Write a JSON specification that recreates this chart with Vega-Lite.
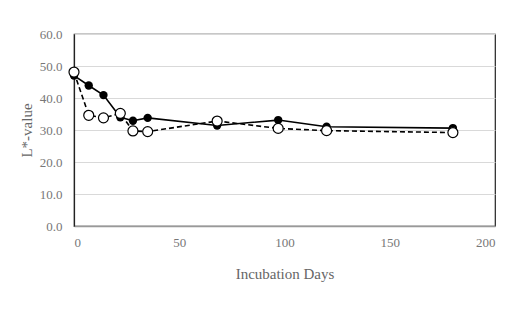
{
  "$schema": "https://vega.github.io/schema/vega-lite/v6.json",
  "width": 421,
  "height": 192,
  "autosize": {"type": "none"},
  "padding": {"left": 74, "top": 34, "right": 29, "bottom": 100},
  "background": "white",
  "config": {
    "view": {"stroke": "#222222", "strokeWidth": 1.2},
    "font": "Liberation Serif",
    "axis": {"labelFont": "Liberation Serif", "titleFont": "Liberation Serif", "labelColor": "#777777", "titleColor": "#666666", "labelFontSize": 13, "titleFontSize": 15, "titleFontWeight": "normal", "ticks": false}
  },
  "data": {
    "values": [
      {"day": 0, "value": 47.0, "series": "A"},
      {"day": 7, "value": 43.9, "series": "A"},
      {"day": 14, "value": 40.9, "series": "A"},
      {"day": 22, "value": 34.0, "series": "A"},
      {"day": 28, "value": 32.9, "series": "A"},
      {"day": 35, "value": 33.8, "series": "A"},
      {"day": 68, "value": 31.4, "series": "A"},
      {"day": 97, "value": 33.1, "series": "A"},
      {"day": 120, "value": 31.0, "series": "A"},
      {"day": 180, "value": 30.6, "series": "A"},
      {"day": 0, "value": 48.1, "series": "B"},
      {"day": 7, "value": 34.6, "series": "B"},
      {"day": 14, "value": 33.8, "series": "B"},
      {"day": 22, "value": 35.2, "series": "B"},
      {"day": 28, "value": 29.7, "series": "B"},
      {"day": 35, "value": 29.5, "series": "B"},
      {"day": 68, "value": 32.8, "series": "B"},
      {"day": 97, "value": 30.5, "series": "B"},
      {"day": 120, "value": 29.8, "series": "B"},
      {"day": 180, "value": 29.2, "series": "B"}
    ]
  },
  "encoding": {
    "x": {
      "field": "day", "type": "quantitative",
      "scale": {"domain": [0, 200], "nice": false},
      "axis": {"values": [0, 50, 100, 150, 200], "grid": false, "domainColor": "#999999", "domainWidth": 1.5, "labelPadding": 10, "title": "Incubation Days", "titlePadding": 17}
    },
    "y": {
      "field": "value", "type": "quantitative",
      "scale": {"domain": [0, 60], "nice": false},
      "axis": {"values": [0, 10, 20, 30, 40, 50, 60], "format": ".1f", "grid": true, "gridColor": "#d9d9d9", "gridWidth": 1.2, "domainColor": "#222222", "domainWidth": 1.2, "labelPadding": 12, "title": "L*-value", "titlePadding": 5}
    }
  },
  "layer": [
    {"transform": [{"filter": "datum.series == 'A'"}], "mark": {"type": "line", "color": "black", "strokeWidth": 1.6}},
    {"transform": [{"filter": "datum.series == 'A'"}], "mark": {"type": "point", "shape": "circle", "filled": true, "color": "black", "size": 70, "opacity": 1}},
    {"transform": [{"filter": "datum.series == 'B'"}], "mark": {"type": "line", "color": "black", "strokeWidth": 1.6, "strokeDash": [5, 3]}},
    {"transform": [{"filter": "datum.series == 'B'"}], "mark": {"type": "point", "shape": "circle", "filled": true, "fill": "white", "stroke": "black", "strokeWidth": 1.2, "size": 100, "opacity": 1}}
  ]
}
